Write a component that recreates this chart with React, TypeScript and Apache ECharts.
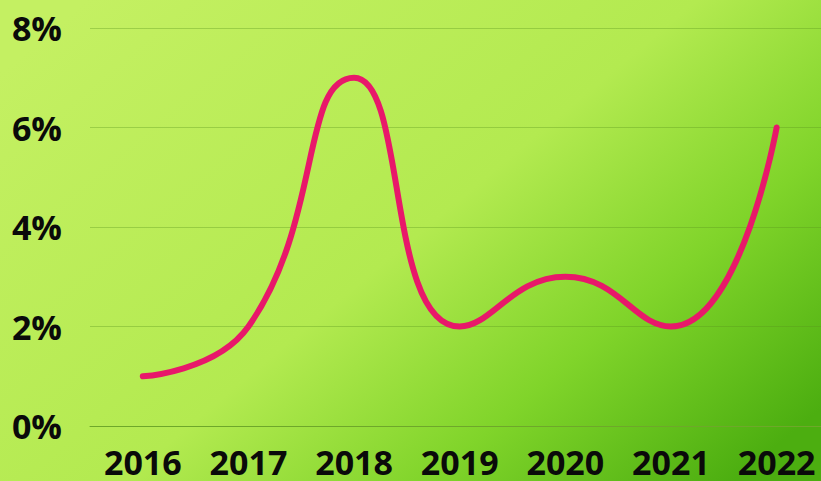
import React, { useEffect, useRef } from "react";
import * as echarts from "echarts";

const years = [2016, 2017, 2018, 2019, 2020, 2021, 2022];
const growthPct = [1, 2, 7, 2, 3, 2, 6];
const yTicks = { min: 0, max: 8, interval: 2 };

export default function App() {
  const ref = useRef<HTMLDivElement>(null);

  useEffect(() => {
    if (!ref.current) return;
    const chart = echarts.init(ref.current, undefined, { renderer: "svg" });
    const labelFont = {
      fontFamily: "'Open Sans', sans-serif",
      fontWeight: 700 as const,
      fontSize: 34,
      color: "#0a0a0a",
    };
    chart.setOption({
      animation: false,
      backgroundColor: new echarts.graphic.LinearGradient(0, 0.15, 1, 0.85, [
        { offset: 0, color: "#c4f062" },
        { offset: 0.5, color: "#b3ea50" },
        { offset: 0.75, color: "#80d42a" },
        { offset: 1, color: "#4cae10" },
      ]),
      grid: { left: 90, right: 0, top: 28, bottom: 55, containLabel: false },
      xAxis: {
        type: "value",
        // half a year of padding on the left, the year axis runs off the right edge
        min: 2015.5,
        max: 2022.42,
        splitLine: { show: false },
        axisTick: { show: false },
        axisLine: { show: true, lineStyle: { color: "#6ea82a", width: 1 } },
        axisLabel: {
          ...labelFont,
          margin: 19,
          customValues: years,
          formatter: (v: number) => String(v),
        },
      },
      yAxis: {
        type: "value",
        min: yTicks.min,
        max: yTicks.max,
        interval: yTicks.interval,
        axisLine: { show: false },
        axisTick: { show: false },
        splitLine: { lineStyle: { color: "rgba(90,150,30,0.35)", width: 1 } },
        axisLabel: { ...labelFont, margin: 28, formatter: "{value}%" },
      },
      series: [
        {
          type: "line",
          data: years.map((y, i) => [y, growthPct[i]]),
          smooth: 0.5,
          symbol: "none",
          lineStyle: { color: "#e8186a", width: 6, cap: "round", join: "round" },
        },
      ],
    });
    return () => chart.dispose();
  }, []);

  return (
    <div
      ref={ref}
      style={{ position: "fixed", left: 0, top: 0, width: 821, height: 481 }}
    />
  );
}
